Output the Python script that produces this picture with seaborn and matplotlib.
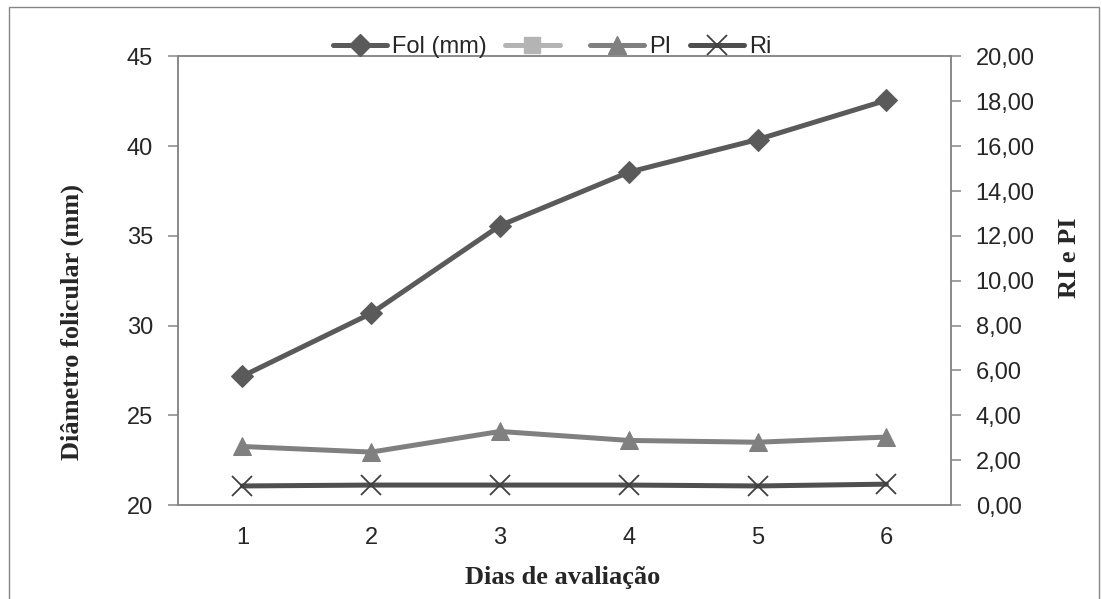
import matplotlib
matplotlib.use("Agg")
import matplotlib.pyplot as plt
from matplotlib.lines import Line2D
from matplotlib.patches import Rectangle
from matplotlib.ticker import FuncFormatter
import seaborn as sns
import pandas as pd

days = [1, 2, 3, 4, 5, 6]
fol_mm = [27.18, 30.68, 35.57, 38.55, 40.37, 42.56]
pi_vals = [2.61, 2.36, 3.28, 2.88, 2.80, 3.03]
ri_vals = [0.85, 0.89, 0.89, 0.89, 0.85, 0.93]

df = pd.DataFrame({"dia": days, "fol": fol_mm, "pi": pi_vals, "ri": ri_vals})

sns.set_style("white")
plt.rcParams["font.family"] = ["Liberation Sans", "DejaVu Sans"]

spine_c = "#868686"
c_fol = "#5a5a5a"
c_sq = "#b4b4b4"
c_pi = "#808080"
c_ri = "#4f4f4f"

fig = plt.figure(figsize=(11.02, 5.99), dpi=100)
ax = fig.add_axes([0.1615, 0.1569, 0.8627 - 0.1615, 0.9057 - 0.1569])
ax2 = ax.twinx()

sns.lineplot(data=df, x="dia", y="fol", ax=ax, color=c_fol, lw=3.6,
             marker="D", markersize=11, markeredgecolor=c_fol, zorder=3)
sns.lineplot(data=df, x="dia", y="pi", ax=ax2, color=c_pi, lw=3.6,
             marker="^", markersize=13, markeredgecolor=c_pi)
sns.lineplot(data=df, x="dia", y="ri", ax=ax2, color=c_ri, lw=3.6,
             marker="x", markersize=14, markeredgewidth=1.3,
             markeredgecolor="#404040")

ax.set_zorder(ax2.get_zorder() + 1)
ax.patch.set_visible(False)

ax.set_xlim(0.5, 6.5)
ax.set_ylim(20, 45)
ax2.set_ylim(0, 20)
ax.set_yticks([20, 25, 30, 35, 40, 45])
ax2.set_yticks([0, 2, 4, 6, 8, 10, 12, 14, 16, 18, 20])
ax2.yaxis.set_major_formatter(FuncFormatter(lambda v, p: f"{v:.2f}".replace(".", ",")))

ax.set_xticks(days)
ax.set_xticks([0.5, 1.5, 2.5, 3.5, 4.5, 5.5, 6.5], minor=True)
ax.tick_params(axis="x", which="major", length=0, pad=16, labelsize=17)
ax.tick_params(axis="x", which="minor", length=7, width=1.1, color=spine_c,
               direction="out")
ax.tick_params(axis="y", length=7, width=1.1, color=spine_c, direction="out",
               pad=11, labelsize=17, left=True)
ax2.tick_params(axis="y", length=7, width=1.1, color=spine_c, direction="out",
                pad=11, labelsize=17, right=True)

for a in (ax, ax2):
    for s in a.spines.values():
        s.set_color(spine_c)
        s.set_linewidth(1.1)

serif = {"family": "Liberation Serif", "weight": "bold", "size": 19}
ax.set_xlabel("Dias de avaliação", fontdict=serif, va="center")
ax.set_ylabel("Diâmetro folicular (mm)", fontdict=serif, va="center")
ax2.set_ylabel("RI e PI", fontdict=serif, va="center")
ax.xaxis.set_label_coords(0.498, -0.161)
ax.yaxis.set_label_coords(-0.137, 0.408)
ax2.yaxis.set_label_coords(1.154, 0.551)

handles = [
    Line2D([], [], color=c_fol, lw=3.6, marker="D", markersize=11),
    Line2D([], [], color=c_sq, lw=3.6, marker="s", markersize=11),
    Line2D([], [], color=c_pi, lw=3.6, marker="^", markersize=13),
    Line2D([], [], color=c_ri, lw=3.6, marker="x", markersize=14,
           markeredgewidth=1.3, markeredgecolor="#404040"),
]
labels = ["Fol (mm)", " ", "PI", "Ri"]
fig.legend(handles, labels, ncol=4, loc="center",
           bbox_to_anchor=(552 / 1102, 1 - 47 / 599), frameon=False,
           fontsize=17, handlelength=2.3, handletextpad=0.2,
           columnspacing=0.8)

fig.patches.append(Rectangle((9 / 1102, -0.05), 1090 / 1102, 1.05 - 7 / 599,
                             transform=fig.transFigure, fill=False,
                             edgecolor=spine_c, lw=1.0))

fig.savefig("out.png", dpi=100, facecolor="white")
